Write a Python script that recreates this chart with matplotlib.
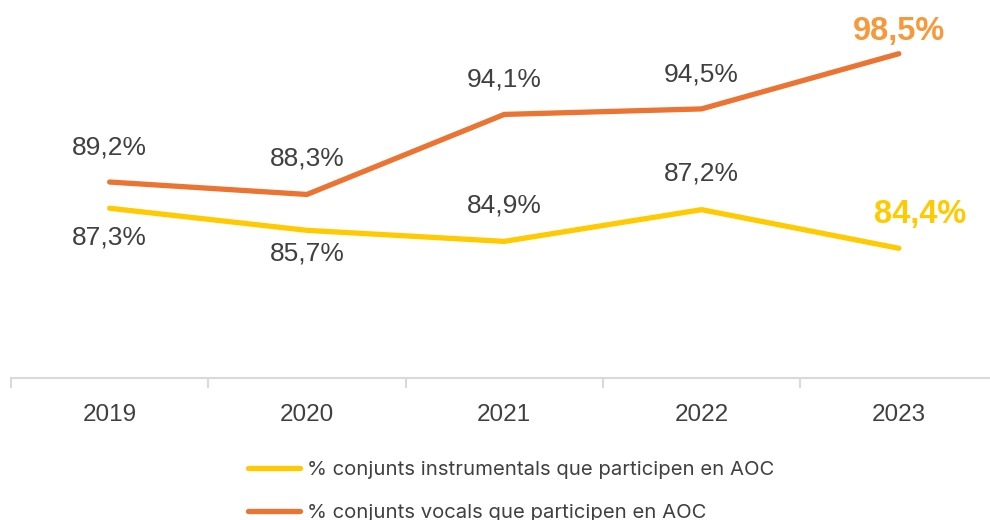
import numpy as np
import matplotlib.pyplot as plt

# Dades
anys = ["2019", "2020", "2021", "2022", "2023"]
instrumentals = [87.3, 85.7, 84.9, 87.2, 84.4]
vocals = [89.2, 88.3, 94.1, 94.5, 98.5]
etiqueta_instr = "% conjunts instrumentals que participen en AOC"
etiqueta_voc = "% conjunts vocals que participen en AOC"

groc = "#FFCA00"
taronja = "#EB7433"
gris = "#404040"

plt.rcParams['font.family'] = ['Liberation Sans', 'DejaVu Sans']

fig = plt.figure(figsize=(9.9, 5.2), dpi=100)
ax = fig.add_axes([11 / 990, 1 - 378 / 520, 986.5 / 990, (378 - 33) / 520])

x = np.arange(len(anys))
l1, = ax.plot(x, instrumentals, color=groc, lw=3.8, solid_capstyle='round', solid_joinstyle='round')
l2, = ax.plot(x, vocals, color=taronja, lw=3.8, solid_capstyle='round', solid_joinstyle='round')

ax.set_xlim(-0.5, 4.5)
ax.set_ylim(75, 100)
ax.set_yticks([])
for s in ["top", "left", "right"]:
    ax.spines[s].set_visible(False)
ax.spines["bottom"].set_color("#D9D9D9")
ax.spines["bottom"].set_linewidth(1.5)

ax.set_xticks(np.arange(-0.5, 5, 1))
ax.tick_params(axis="x", which="major", length=7, width=1.5, color="#D9D9D9", labelbottom=False)
ax.set_xticks(x, minor=True)
ax.set_xticklabels(anys, minor=True)
ax.tick_params(axis="x", which="minor", length=0, pad=19, labelsize=17.5, labelcolor=gris)

def fmt(v):
    return f"{v:.1f}%".replace(".", ",")

# etiquetes de dades (desplaçaments en punts)
off_voc = [(0, 25), (0, 26), (0, 25), (0, 25)]
off_instr = [(0, -21), (0, -17), (0, 26), (0, 26)]
for i in range(4):
    ax.annotate(fmt(vocals[i]), (x[i], vocals[i]), xytext=off_voc[i], textcoords="offset points",
                ha="center", va="center", fontsize=19, color=gris)
    ax.annotate(fmt(instrumentals[i]), (x[i], instrumentals[i]), xytext=off_instr[i], textcoords="offset points",
                ha="center", va="center", fontsize=19, color=gris)

ax.annotate(fmt(vocals[4]), (x[4], vocals[4]), xytext=(0, 16), textcoords="offset points",
            ha="center", va="center", fontsize=23.5, fontweight="bold", color="#F7983A")
ax.annotate(fmt(instrumentals[4]), (x[4], instrumentals[4]), xytext=(15, 24), textcoords="offset points",
            ha="center", va="center", fontsize=23.5, fontweight="bold", color=groc)

fig.legend([l1, l2], [etiqueta_instr, etiqueta_voc], loc="upper left",
           bbox_to_anchor=(230 / 990, 1 - 443 / 520), frameon=False,
           prop={"family": ["Inter", "DejaVu Sans"], "size": 14.6},
           handlelength=2.55, handletextpad=0.35, labelspacing=1.2, labelcolor=gris)

fig.savefig("out.png", dpi=100)
